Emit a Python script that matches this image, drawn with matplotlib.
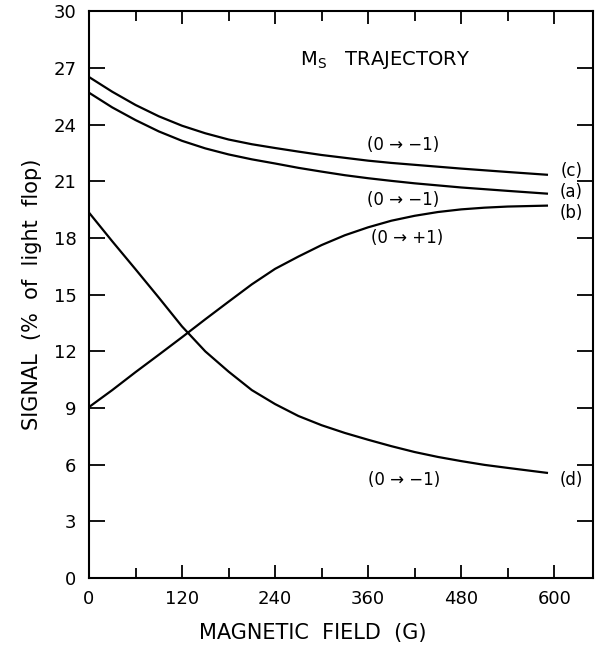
import matplotlib
matplotlib.use("Agg")
import matplotlib.pyplot as plt
from matplotlib.ticker import MultipleLocator

# magnetic field (G) and signal (% of light flop)
field = [0, 30, 60, 90, 120, 150, 180, 210, 240, 270, 300, 330, 360, 390,
         420, 450, 480, 510, 540, 592]
sig_c = [26.53, 25.75, 25.05, 24.45, 23.95, 23.55, 23.22, 22.97, 22.77, 22.58,
         22.4, 22.25, 22.1, 21.98, 21.88, 21.78, 21.68, 21.59, 21.5, 21.35]
sig_a = [25.7, 24.92, 24.25, 23.65, 23.15, 22.75, 22.43, 22.17, 21.95, 21.72,
         21.52, 21.33, 21.17, 21.03, 20.9, 20.79, 20.68, 20.59, 20.5, 20.35]
sig_b = [9.05, 9.95, 10.9, 11.82, 12.75, 13.7, 14.63, 15.55, 16.37, 17.02,
         17.63, 18.15, 18.57, 18.92, 19.18, 19.38, 19.52, 19.61, 19.67, 19.72]
sig_d = [19.35, 17.83, 16.35, 14.85, 13.32, 12.0, 10.93, 9.95, 9.21, 8.58,
         8.09, 7.68, 7.32, 6.98, 6.67, 6.41, 6.19, 5.99, 5.83, 5.56]

curve_names = ["(c)", "(a)", "(b)", "(d)"]
transitions = ["(0 → −1)", "(0 → −1)", "(0 → +1)", "(0 → −1)"]

plt.rcParams["font.family"] = "DejaVu Sans"

fig = plt.figure(figsize=(5.98, 6.45), dpi=100)
ax = fig.add_axes([0.1488, 0.1039, 0.8428, 0.8783])

for y in (sig_c, sig_a, sig_b, sig_d):
    ax.plot(field, y, color="black", lw=1.6, solid_capstyle="butt")

ax.set_xlim(0, 650)
ax.set_ylim(0, 30)
ax.xaxis.set_minor_locator(MultipleLocator(60))
ax.yaxis.set_major_locator(MultipleLocator(3))
ax.set_xticks([0, 120, 240, 360, 480, 600])

ax.tick_params(axis="x", which="major", direction="in", length=9.5, width=1.3,
               top=True, labelsize=13, pad=9)
ax.tick_params(axis="x", which="minor", direction="in", length=7, width=1.3, top=True)
ax.tick_params(axis="y", which="major", direction="in", length=11.5, width=1.3,
               right=True, labelsize=13, pad=9)
for s in ax.spines.values():
    s.set_linewidth(1.5)

ax.set_xlabel("MAGNETIC  FIELD  (G)", fontsize=15, va="center")
ax.xaxis.set_label_coords(0.443, -0.097)
ax.set_ylabel("SIGNAL  (%  of  light  flop)", fontsize=15, labelpad=8)

ax.text(272, 27.45, r"M$_{\mathregular{S}}$   TRAJECTORY", fontsize=14, va="center", ha="left")

# transition labels beside each curve
trans_pos = [(405, 22.95), (405, 20.0), (410, 18.0), (407, 5.2)]
for t, (x, y) in zip(transitions, trans_pos):
    ax.text(x, y, t, fontsize=12, ha="center", va="center")

name_pos = [21.55, 20.42, 19.35, 5.2]
for n, y in zip(curve_names, name_pos):
    ax.text(622, y, n, fontsize=12, ha="center", va="center")

fig.savefig("out.png", dpi=100)
